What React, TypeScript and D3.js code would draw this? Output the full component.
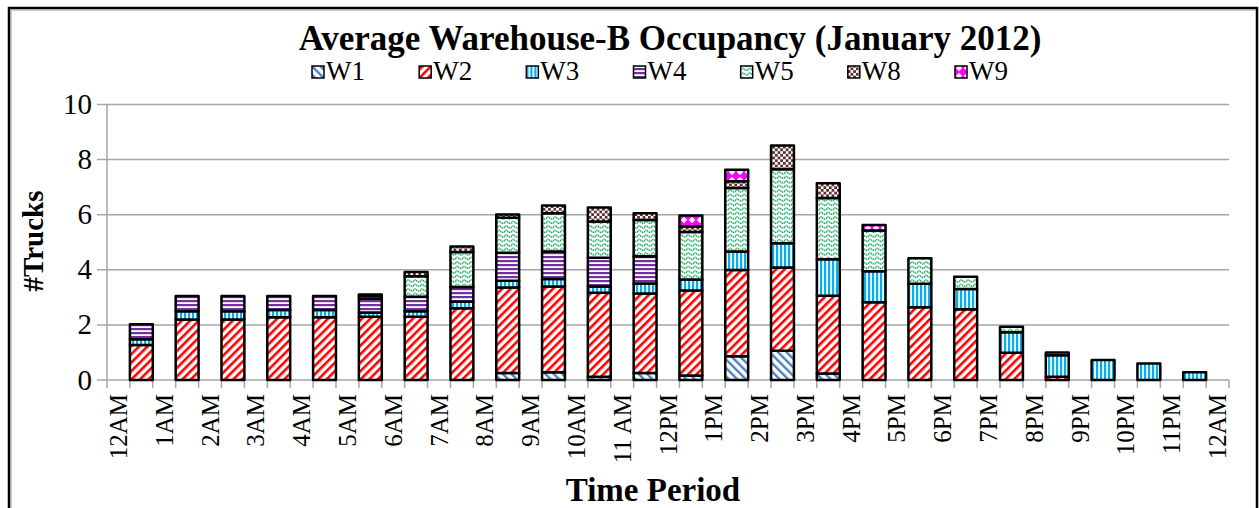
import React from "react";
import * as d3 from "d3";

const hours = d3.range(24);
const tickLabels = ["12AM","1AM","2AM","3AM","4AM","5AM","6AM","7AM","8AM","9AM","10AM","11 AM","12PM","1PM","2PM","3PM","4PM","5PM","6PM","7PM","8PM","9PM","10PM","11PM","12AM"];
const seriesNames = ["W1","W2","W3","W4","W5","W8","W9"];
const W1 = [0,0,0,0,0,0,0,0,0.25,0.28,0.12,0.25,0.16,0.86,1.06,0.24,0,0,0,0,0,0,0,0];
const W2 = [1.27,2.2,2.2,2.28,2.28,2.3,2.3,2.6,3.11,3.11,3.05,2.89,3.09,3.13,3.02,2.82,2.82,2.64,2.57,0.99,0.12,0,0,0];
const W3 = [0.21,0.3,0.3,0.26,0.26,0.15,0.2,0.24,0.24,0.28,0.22,0.36,0.4,0.67,0.88,1.32,1.13,0.85,0.73,0.74,0.78,0.73,0.6,0.28];
const W4 = [0.54,0.55,0.55,0.51,0.51,0.5,0.52,0.54,1.02,0.99,1.05,0.99,0,0,0,0,0,0,0,0,0,0,0,0];
const W5 = [0,0,0,0,0,0.1,0.75,1.27,1.27,1.39,1.31,1.32,1.72,2.31,2.69,2.23,1.48,0.93,0.45,0.2,0.1,0,0,0];
const W8 = [0,0,0,0,0,0.05,0.15,0.2,0.12,0.28,0.51,0.24,0.2,0.24,0.86,0.53,0,0,0,0,0,0,0,0];
const W9 = [0,0,0,0,0,0,0,0,0,0,0,0,0.4,0.42,0,0,0.2,0,0,0,0,0,0,0];
const yTicks = [0,2,4,6,8,10];

const seriesValues = [W1, W2, W3, W4, W5, W8, W9];

function Patterns() {
  return (
    <defs>
      <pattern id="pW1" width="6" height="6" patternUnits="userSpaceOnUse" patternTransform="rotate(-45)">
        <rect width="6" height="6" fill="#fff" />
        <rect x="0" width="2.4" height="6" fill="#4f81bd" />
      </pattern>
      <pattern id="pW2" width="6" height="6" patternUnits="userSpaceOnUse" patternTransform="rotate(45)">
        <rect width="6" height="6" fill="#fff" />
        <rect x="0" width="2.6" height="6" fill="#ff0000" />
      </pattern>
      <pattern id="pW3" width="4" height="4" patternUnits="userSpaceOnUse">
        <rect width="4" height="4" fill="#fff" />
        <rect x="0" width="2.2" height="4" fill="#00b0f0" />
      </pattern>
      <pattern id="pW4" width="4" height="4" patternUnits="userSpaceOnUse">
        <rect width="4" height="4" fill="#fff" />
        <rect y="0" width="4" height="2.2" fill="#7030a0" />
      </pattern>
      <pattern id="pW5" width="7" height="4.5" patternUnits="userSpaceOnUse">
        <rect width="7" height="4.5" fill="#fff" />
        <path d="M0,3 Q1.75,-0.2 3.5,1.5 T7,3" fill="none" stroke="#00a050" strokeWidth="1.3" strokeDasharray="1.5,0.5" />
      </pattern>
      <pattern id="pW8" width="5.4" height="5.4" patternUnits="userSpaceOnUse">
        <rect width="5.4" height="5.4" fill="#fff" />
        <rect x="0" y="0" width="2.7" height="2.7" fill="#5c2f2d" />
        <rect x="2.7" y="2.7" width="2.7" height="2.7" fill="#5c2f2d" />
      </pattern>
      <pattern id="pW9" width="8" height="8" patternUnits="userSpaceOnUse">
        <rect width="8" height="8" fill="#ff00ff" />
        <path d="M4,0.8 L7.2,4 L4,7.2 L0.8,4 Z" fill="#fff" />
      </pattern>
    </defs>
  );
}

export default function App() {
  const W = 1259, H = 508;
  const x = d3.scaleLinear().domain([0, 49]).range([107, 1229]);
  const y = d3.scaleLinear().domain([0, 10]).range([380, 104.5]);
  const slot = x(1) - x(0);

  const table = hours.map((h, i) => {
    const row: any = { h };
    seriesNames.forEach((s, k) => (row[s] = seriesValues[k][i]));
    return row;
  });
  const stacked = d3.stack().keys(seriesNames)(table);

  const font = { fontFamily: '"Liberation Serif", "Times New Roman", Tinos, Times, serif' };
  const legendX = d3.scalePoint().domain(seriesNames).range([312, 955]);

  return (
    <svg width={W} height={H} style={{ position: "absolute", left: 0, top: 0, background: "#fff" }}>
      <Patterns />
      <rect x={9} y={8} width={1248} height={520} fill="#fff" stroke="#000" strokeWidth={2.5} />
      <line x1={11} y1={10} x2={1256} y2={10} stroke="#999" strokeWidth={1} />
      <line x1={11} y1={10} x2={11} y2={508} stroke="#999" strokeWidth={1} />
      <text x={670} y={50} textAnchor="middle" fontSize={35} fontWeight="bold" style={font}>Average Warehouse-B Occupancy (January 2012)</text>
      {seriesNames.map((s) => (
        <g key={s} transform={`translate(${legendX(s)},0)`}>
          <rect x={0} y={66} width={12} height={12} fill={`url(#p${s})`} stroke="#000" strokeWidth={1.5} />
          <text x={14} y={80} fontSize={27} style={font}>{s}</text>
        </g>
      ))}
      {yTicks.map((t) => (
        <g key={t}>
          <line x1={97} x2={x(49)} y1={y(t)} y2={y(t)} stroke="#a6a6a6" strokeWidth={1.5} />
          <text x={92} y={y(t) + 9.5} textAnchor="end" fontSize={29} style={font}>{t}</text>
        </g>
      ))}
      <line x1={x(0)} x2={x(0)} y1={y(10)} y2={y(0)} stroke="#a6a6a6" strokeWidth={1.5} />
      {d3.range(50).map((k) => (
        <line key={k} x1={x(k)} x2={x(k)} y1={y(0)} y2={y(0) + 8} stroke="#a6a6a6" strokeWidth={1.5} />
      ))}
      {stacked.map((layer) => (
        <g key={layer.key}>
          {layer.map((d, i) =>
            d[1] - d[0] > 0 ? (
              <rect key={i} x={x(2 * i + 1)} width={slot} y={y(d[1])} height={y(d[0]) - y(d[1])}
                fill={`url(#p${layer.key})`} stroke="#000" strokeWidth={2.5} strokeLinejoin="round" />
            ) : null
          )}
        </g>
      ))}
      {tickLabels.map((t, i) => (
        <text key={i} transform={`translate(${x(2 * i + 0.5) + 8.5},394) rotate(-90)`} textAnchor="end" fontSize={25} style={font}>{t}</text>
      ))}
      <text transform={`translate(43,241) rotate(-90)`} textAnchor="middle" fontSize={29} fontWeight="bold" style={font}>#Trucks</text>
      <text x={653} y={501} textAnchor="middle" fontSize={33} fontWeight="bold" style={font}>Time Period</text>
    </svg>
  );
}
